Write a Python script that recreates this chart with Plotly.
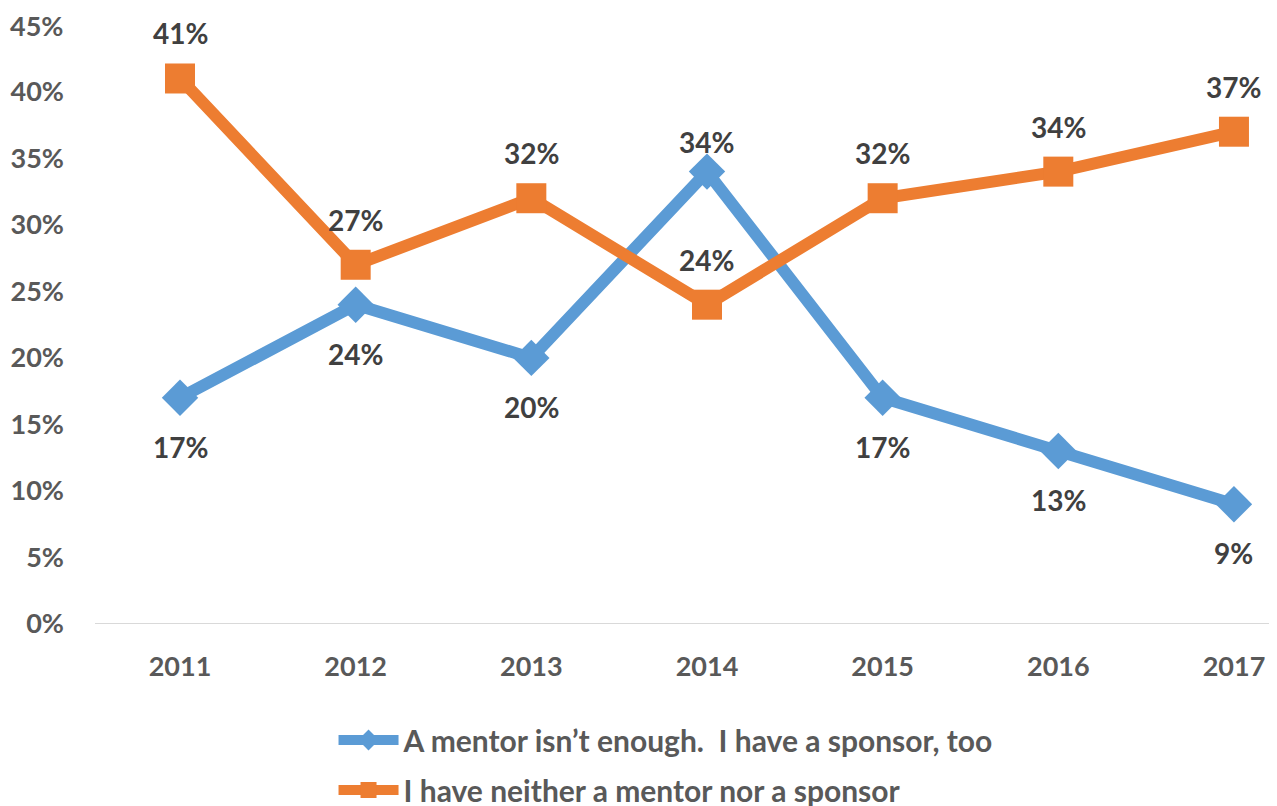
import plotly.graph_objects as go

years = ["2011", "2012", "2013", "2014", "2015", "2016", "2017"]
sponsor_too = [17, 24, 20, 34, 17, 13, 9]
neither = [41, 27, 32, 24, 32, 34, 37]
sponsor_name = "A mentor isn\u2019t enough.  I have a sponsor, too"
neither_name = "I have neither a mentor nor a sponsor"
y_ticks = [0, 5, 10, 15, 20, 25, 30, 35, 40, 45]

BLUE = "#5B9BD5"
ORANGE = "#ED7D31"
FONT = "Lato"

fig = go.Figure()
fig.add_trace(go.Scatter(
    x=list(range(len(years))), y=sponsor_too, name=sponsor_name,
    mode="lines+markers", legend="legend",
    line=dict(color=BLUE, width=12),
    marker=dict(symbol="diamond", size=28, color=BLUE),
))
fig.add_trace(go.Scatter(
    x=list(range(len(years))), y=neither, name=neither_name,
    mode="lines+markers", legend="legend2",
    line=dict(color=ORANGE, width=12),
    marker=dict(symbol="square", size=30, color=ORANGE),
))

label_font = dict(family=FONT, size=28, color="#404040", weight="bold")
for i, v in enumerate(sponsor_too):
    above = v > neither[i]
    fig.add_annotation(x=i, y=v, text=f"{v}%", showarrow=False, font=label_font,
                       yshift=30 if above else -49)
for i, v in enumerate(neither):
    fig.add_annotation(x=i, y=v, text=f"{v}%", showarrow=False, font=label_font,
                       yshift=45)

tick_font = dict(family=FONT, color="#595959", size=27, weight="bold")
# plotly drops the top tick label when it touches the figure edge, so the
# last one is drawn as an annotation at the same place
fig.add_annotation(x=0, xref="paper", y=y_ticks[-1], yref="y",
                   text=f"{y_ticks[-1]}%", showarrow=False, font=tick_font,
                   xanchor="right", xshift=-30)

# the page body adds an 8px offset, so positions below are shifted back by 8
H = 806
T = 17
legend_font = dict(size=30, color="#595959", family=FONT, weight="bold")
fig.update_layout(
    width=1277, height=H,
    margin=dict(l=87, r=8, t=T, b=0, autoexpand=False),
    plot_bgcolor="white", paper_bgcolor="white",
    font=tick_font,
    showlegend=True,
    legend=dict(x=0.2018, y=(H - 732) / (H - T), xanchor="left", yanchor="middle",
                font=legend_font, itemwidth=60, bgcolor="rgba(0,0,0,0)"),
    legend2=dict(x=0.2018, y=(H - 782) / (H - T), xanchor="left", yanchor="middle",
                 font=legend_font, itemwidth=60, bgcolor="rgba(0,0,0,0)"),
    xaxis=dict(range=[-0.484, 6.245], tickmode="array",
               tickvals=list(range(len(years))), ticktext=years,
               showgrid=False, zeroline=False, showline=False, ticks="",
               ticklabelstandoff=24, automargin=False),
    yaxis=dict(range=[0, 45.02], tickvals=y_ticks[:-1], domain=[(H - 616) / (H - T), 1],
               ticktext=[f"{t}%" for t in y_ticks[:-1]],
               showgrid=False, zeroline=False, showline=False, ticks="",
               ticklabelstandoff=30, automargin=False),
)
fig.add_shape(type="line", xref="paper", yref="y", x0=0, x1=1, y0=0, y1=0,
              line=dict(color="#D9D9D9", width=2), layer="below")

fig.write_html("out.html")
